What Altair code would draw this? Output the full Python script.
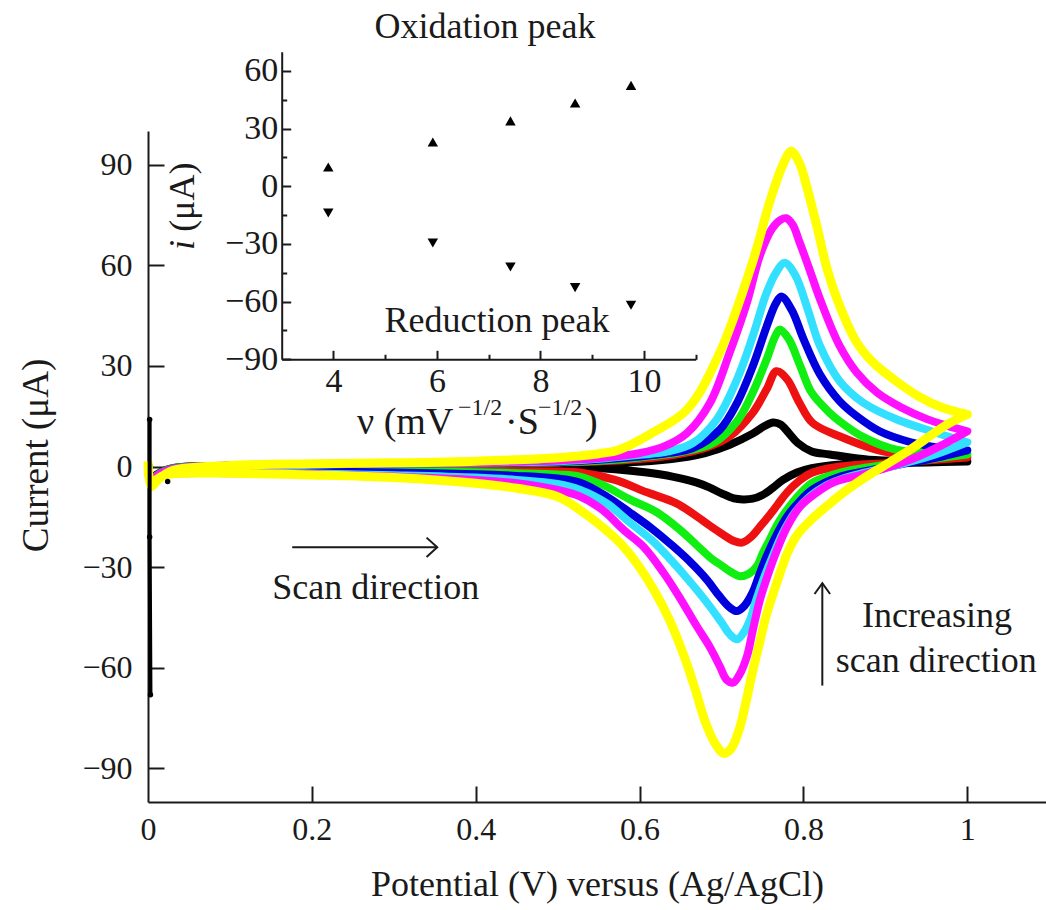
import altair as alt
import pandas as pd

# ---------------- main cyclic voltammograms: potential (V) / current (uA) ----------------
black_fwd_v = [0, 0.004, 0.01, 0.03, 0.1, 0.2, 0.3, 0.4, 0.5, 0.55, 0.6, 0.65, 0.68, 0.71, 0.738, 0.752, 0.763, 0.772, 0.782, 0.793, 0.81, 0.832, 0.88, 0.94, 1.0]
black_fwd_i = [1, -4, -2.5, -0.5, 0.2, 0.4, 0.5, 0.6, 0.8, 1.0, 1.4, 2.6, 4, 6.5, 9.8, 12, 13.1, 12.5, 10, 7, 4.5, 3.6, 2, 1.7, 1.5]
black_rev_v = [1.0, 0.95, 0.9, 0.845, 0.81, 0.792, 0.775, 0.762, 0.75, 0.738, 0.726, 0.715, 0.7, 0.685, 0.67, 0.64, 0.609, 0.57, 0.527, 0.45, 0.35, 0.2, 0.1, 0.04, 0.02, 0.01, 0.004, 0]
black_rev_i = [1.5, 1.2, 1, 0.6, -0.5, -1.8, -4, -6.5, -8.5, -9.6, -9.8, -9.5, -8, -6.2, -4.8, -3, -1.8, -0.8, -0.3, -0.5, -0.6, -0.7, -0.8, -0.9, -1.5, -2.5, -4, -1]

red_fwd_v = [0, 0.004, 0.01, 0.03, 0.1, 0.2, 0.3, 0.4, 0.5, 0.55, 0.6, 0.65, 0.68, 0.71, 0.738, 0.755, 0.767, 0.78, 0.795, 0.811, 0.844, 0.897, 0.95, 1.0]
red_fwd_i = [1, -4.5, -2.8, -0.6, 0.2, 0.5, 0.7, 0.9, 1.2, 1.5, 2.2, 3.8, 5.5, 9, 16, 23, 28.4, 26, 19, 13, 9, 4.5, 3.2, 2.7]
red_rev_v = [1.0, 0.95, 0.9, 0.845, 0.811, 0.795, 0.78, 0.768, 0.757, 0.747, 0.736, 0.725, 0.715, 0.7, 0.685, 0.67, 0.645, 0.609, 0.57, 0.527, 0.5, 0.45, 0.4, 0.3, 0.2, 0.1, 0.04, 0.02, 0.01, 0.004, 0]
red_rev_i = [2.7, 1.8, 1, 0, -1.8, -4.2, -7.7, -11.5, -15, -17.9, -21, -22.7, -22.2, -20, -17.5, -14.9, -11, -7.7, -4, -1.8, -1.5, -1.3, -1.2, -1.1, -1, -1, -1.1, -1.8, -3, -4.5, -1]

green_fwd_v = [0, 0.004, 0.01, 0.03, 0.1, 0.2, 0.3, 0.4, 0.5, 0.55, 0.6, 0.65, 0.69, 0.719, 0.738, 0.755, 0.765, 0.771, 0.782, 0.796, 0.81, 0.832, 0.844, 0.872, 0.913, 0.96, 1.0]
green_fwd_i = [1, -4.5, -2.8, -0.6, 0.2, 0.5, 0.8, 1.0, 1.3, 1.7, 2.7, 4.3, 7, 13.5, 22, 31.9, 38.5, 40.8, 38, 30, 22, 16, 13.5, 8.9, 5, 4, 3.6]
green_rev_v = [1.0, 0.95, 0.9, 0.845, 0.811, 0.797, 0.783, 0.77, 0.759, 0.75, 0.743, 0.733, 0.722, 0.712, 0.7, 0.689, 0.67, 0.649, 0.62, 0.588, 0.555, 0.527, 0.5, 0.45, 0.4, 0.3, 0.2, 0.1, 0.04, 0.02, 0.01, 0.004, 0]
green_rev_i = [3.6, 2, 0.5, -1.8, -4.8, -7.8, -11.9, -16.5, -21.7, -26, -29.8, -32, -32.7, -31.5, -29.5, -27.7, -23.5, -18.8, -13.5, -9.8, -5.5, -3, -2.4, -2, -1.7, -1.4, -1.2, -1.1, -1.2, -2, -3, -4.5, -1]

blue_fwd_v = [0, 0.004, 0.01, 0.03, 0.1, 0.2, 0.3, 0.4, 0.5, 0.55, 0.6, 0.635, 0.665, 0.698, 0.719, 0.738, 0.755, 0.766, 0.773, 0.786, 0.8, 0.82, 0.844, 0.865, 0.893, 0.93, 0.965, 1.0]
blue_fwd_i = [1, -5, -3, -0.7, 0.2, 0.5, 0.8, 1.1, 1.4, 2, 3, 4, 5.5, 11, 19, 29.8, 41.7, 48.5, 50.7, 46.5, 38, 27.5, 19.5, 15, 10.5, 7.3, 5.6, 4.8]
blue_rev_v = [1.0, 0.96, 0.92, 0.88, 0.845, 0.811, 0.795, 0.78, 0.767, 0.755, 0.745, 0.738, 0.728, 0.719, 0.71, 0.697, 0.682, 0.662, 0.641, 0.615, 0.588, 0.56, 0.527, 0.5, 0.45, 0.4, 0.3, 0.2, 0.1, 0.04, 0.02, 0.01, 0.004, 0]
blue_rev_i = [4.8, 2.5, 0.7, -1.2, -3, -6.9, -10.5, -14.9, -20.5, -26.8, -33, -37.5, -41.5, -43.1, -42, -38.5, -33.7, -28.5, -23.8, -18.5, -13.7, -9, -4.8, -3.6, -2.8, -2.3, -1.8, -1.5, -1.3, -1.4, -2, -3, -4.5, -1]

cyan_fwd_v = [0, 0.004, 0.01, 0.03, 0.1, 0.2, 0.3, 0.4, 0.5, 0.55, 0.6, 0.635, 0.665, 0.694, 0.719, 0.738, 0.755, 0.767, 0.777, 0.79, 0.805, 0.82, 0.844, 0.873, 0.914, 0.963, 1.0]
cyan_fwd_i = [1, -5, -3, -0.8, 0.2, 0.6, 0.9, 1.2, 1.6, 2.3, 3.5, 4.5, 7, 14, 26, 38.7, 51.8, 58, 60.7, 57, 47, 36, 25.5, 19, 14, 10, 7.2]
cyan_rev_v = [1.0, 0.96, 0.92, 0.88, 0.845, 0.825, 0.808, 0.79, 0.775, 0.762, 0.751, 0.742, 0.735, 0.727, 0.719, 0.71, 0.7, 0.682, 0.662, 0.641, 0.615, 0.588, 0.56, 0.527, 0.5, 0.45, 0.4, 0.3, 0.2, 0.1, 0.04, 0.02, 0.01, 0.004, 0]
cyan_rev_i = [7.2, 3.5, 0.8, -1.5, -3.9, -6, -8.9, -13.5, -19.7, -27, -33.7, -40, -45.6, -49.5, -51.5, -50, -46.5, -40.5, -34.5, -28.6, -22, -16.7, -11, -6.9, -5.2, -4, -3.3, -2.6, -2.1, -1.8, -1.8, -2.3, -3.3, -5, -1]

magenta_fwd_v = [0, 0.004, 0.01, 0.03, 0.1, 0.2, 0.3, 0.4, 0.5, 0.55, 0.6, 0.63, 0.658, 0.686, 0.71, 0.731, 0.747, 0.762, 0.772, 0.779, 0.787, 0.795, 0.807, 0.82, 0.844, 0.865, 0.89, 0.92, 0.95, 0.975, 1.0]
magenta_fwd_i = [1, -5, -3, -0.8, 0.3, 0.7, 1.0, 1.3, 1.8, 2.5, 4, 6, 10, 19, 34, 48.9, 63, 71, 73.5, 74, 72, 67, 59, 50, 36, 28, 22, 17.5, 14.2, 12.2, 10.5]
magenta_rev_v = [1.0, 0.97, 0.94, 0.9, 0.87, 0.836, 0.815, 0.796, 0.78, 0.768, 0.757, 0.747, 0.738, 0.731, 0.722, 0.714, 0.706, 0.698, 0.685, 0.67, 0.65, 0.629, 0.605, 0.58, 0.555, 0.527, 0.5, 0.45, 0.4, 0.3, 0.2, 0.1, 0.04, 0.02, 0.01, 0.004, 0]
magenta_rev_i = [10.5, 6.5, 3, -0.5, -2.5, -4.8, -8, -11.9, -18, -24.7, -32, -39.6, -49, -56.6, -62, -64.4, -63.5, -59.6, -53.5, -47.7, -39.5, -31.6, -24, -18.8, -13, -8.9, -7, -5, -4, -3, -2.3, -2, -2, -2.5, -3.5, -5, -1]

yellow_fwd_v = [0, 0.004, 0.012, 0.03, 0.1, 0.2, 0.3, 0.4, 0.5, 0.55, 0.576, 0.616, 0.658, 0.698, 0.738, 0.759, 0.775, 0.785, 0.795, 0.804, 0.817, 0.829, 0.844, 0.865, 0.885, 0.91, 0.94, 0.97, 1.0]
yellow_fwd_i = [1.5, -6, -4, -1.2, 0.3, 0.8, 1.1, 1.6, 2.6, 3.8, 5.1, 10.1, 17, 34, 61, 79, 90, 94, 90.5, 83.4, 71, 58.7, 48, 37, 31, 26, 21, 17.5, 15.5]
yellow_rev_v = [1.0, 0.975, 0.954, 0.93, 0.905, 0.88, 0.853, 0.83, 0.811, 0.792, 0.78, 0.767, 0.755, 0.746, 0.738, 0.73, 0.722, 0.712, 0.703, 0.692, 0.68, 0.668, 0.655, 0.637, 0.618, 0.597, 0.577, 0.557, 0.537, 0.5, 0.45, 0.4, 0.3, 0.2, 0.1, 0.04, 0.02, 0.01, 0.004, 0.0]
yellow_rev_i = [15.5, 12.5, 9, 5, 1.2, -2.5, -7, -11.5, -15.5, -20.5, -26, -35, -44, -53, -61, -70, -78, -84, -85.5, -82.5, -76, -66.5, -57, -46, -37, -29, -23, -18.5, -14.7, -9, -6.5, -5, -3.3, -2.5, -2, -2, -2.5, -4, -5.5, -1]

# initial transient spike of the first scan at 0 V
spike_v = [0.002, 0.002, 0.003]
spike_i = [14, -21, -68]
dot_v = [0.002, 0.002, 0.003, 0.024]
dot_i = [14, -21, -68, -4.5]

# ---------------- inset: peak current vs sqrt(scan rate) ----------------
ox_x = [3.9, 5.92, 7.42, 8.67, 9.75]
ox_y = [10.0, 23.0, 34.0, 43.3, 52.5]
red_x = [3.9, 5.92, 7.42, 8.67, 9.75]
red_y = [-13.9, -29.5, -42.0, -52.7, -61.9]

x_tick_vals = [0, 0.2, 0.4, 0.6, 0.8, 1]
y_tick_vals = [90, 60, 30, 0, -30, -60, -90]
ix_tick_vals = [4, 6, 8, 10]
ix_minor_vals = [5, 7, 9, 11]
iy_tick_vals = [60, 30, 0, -30, -60, -90]
iy_minor_vals = [45, 15, -15, -45, -75]

FONT = "Liberation Serif"
INK = "#1a1a1a"
W, H = 898, 671

XS = alt.Scale(domain=[0, 1.096], nice=False, zero=False)
YS = alt.Scale(domain=[-100, 100], nice=False, zero=False)
IXS = alt.Scale(domain=[3, 11], range=[133.7, 547.7], nice=False, zero=False)
IYS = alt.Scale(domain=[-90, 70], range=[228.3, -79.3], nice=False, zero=False)

series = [
    ("black", "#000000", 8, black_fwd_v, black_fwd_i, black_rev_v, black_rev_i),
    ("red", "#ee1111", 8, red_fwd_v, red_fwd_i, red_rev_v, red_rev_i),
    ("green", "#11ee11", 8, green_fwd_v, green_fwd_i, green_rev_v, green_rev_i),
    ("blue", "#0000dd", 8, blue_fwd_v, blue_fwd_i, blue_rev_v, blue_rev_i),
    ("cyan", "#33e0ff", 8, cyan_fwd_v, cyan_fwd_i, cyan_rev_v, cyan_rev_i),
    ("magenta", "#ff11ff", 8, magenta_fwd_v, magenta_fwd_i, magenta_rev_v, magenta_rev_i),
    ("yellow", "#ffff00", 9, yellow_fwd_v, yellow_fwd_i, yellow_rev_v, yellow_rev_i),
]

# ---- axes ----
x_lbl_axis = alt.Axis(orient="bottom", values=x_tick_vals, format="~g", ticks=False, tickSize=0,
                      domain=True, domainColor=INK, domainWidth=2, grid=False,
                      labelFont=FONT, labelFontSize=32, labelColor=INK, labelPadding=12,
                      labelFlush=False, labelOverlap=False,
                      title="Potential (V) versus (Ag/AgCl)", titleFont=FONT, titleFontSize=36,
                      titleFontWeight="normal", titleColor=INK, titleX=W / 2, titleY=93,
                      titleAlign="center", titleBaseline="alphabetic")
y_lbl_axis = alt.Axis(orient="left", values=y_tick_vals, ticks=False, tickSize=0,
                      domain=True, domainColor=INK, domainWidth=2, grid=False,
                      labelFont=FONT, labelFontSize=32, labelColor=INK, labelPadding=16,
                      labelFlush=False, labelOverlap=False,
                      title="Current (μA)", titleFont=FONT, titleFontSize=37,
                      titleFontWeight="normal", titleColor=INK, titleX=-112, titleY=324,
                      titleAngle=270, titleAlign="center", titleBaseline="middle")
x_tick_axis = alt.Axis(orient="bottom", offset=-16, values=x_tick_vals[1:], ticks=True, tickSize=16,
                       tickWidth=2, tickColor=INK, domain=False, labels=False, grid=False, title=None)
y_tick_axis = alt.Axis(orient="left", offset=-16, values=y_tick_vals, ticks=True, tickSize=16,
                       tickWidth=2, tickColor=INK, domain=False, labels=False, grid=False, title=None)

main_layers = []
for k, (name, color, sw, fv, fi, rv, ri) in enumerate(series):
    rows = []
    for j, (v, c) in enumerate(zip(fv + rv, fi + ri)):
        rows.append({"V": v, "I": c, "idx": j})
    df = pd.DataFrame(rows)
    if k == 0:
        xa, ya = x_lbl_axis, y_lbl_axis
    elif k == 1:
        xa, ya = x_tick_axis, y_tick_axis
    else:
        xa, ya = None, None
    layer = alt.Chart(df).mark_line(color=color, strokeWidth=sw, interpolate="catmull-rom",
                                    strokeJoin="round", strokeCap="butt").encode(
        x=alt.X("V:Q", scale=XS, axis=xa),
        y=alt.Y("I:Q", scale=YS, axis=ya),
        order="idx:Q",
    )
    main_layers.append(layer)

spike = alt.Chart(pd.DataFrame({"V": spike_v, "I": spike_i, "o": [0, 1, 2]})).mark_line(
    color="#000000", strokeWidth=4).encode(
    x=alt.X("V:Q", scale=XS, axis=None), y=alt.Y("I:Q", scale=YS, axis=None), order="o:Q")
dots = alt.Chart(pd.DataFrame({"V": dot_v, "I": dot_i})).mark_circle(color="#000000", size=30, opacity=1).encode(
    x=alt.X("V:Q", scale=XS, axis=None), y=alt.Y("I:Q", scale=YS, axis=None))

# annotation arrows (in data units)
arrow_df = pd.DataFrame({
    "seg": ["a", "a", "b", "b", "b", "c", "c", "d", "d", "d"],
    "o": [0, 1, 0, 1, 2, 0, 1, 0, 1, 2],
    "V": [0.176, 0.353, 0.340, 0.353, 0.340, 0.823, 0.823, 0.8135, 0.823, 0.8325],
    "I": [-24.1, -24.1, -21.2, -24.1, -27.0, -65.3, -34.8, -38.0, -34.8, -38.0],
})
arrows = alt.Chart(arrow_df).mark_line(color=INK, strokeWidth=2).encode(
    x=alt.X("V:Q", scale=XS, axis=None), y=alt.Y("I:Q", scale=YS, axis=None),
    detail="seg:N", order="o:Q")

ann_df = pd.DataFrame({
    "V": [0.278, 0.963, 0.962],
    "I": [-39.6, -47.7, -61.4],
    "t": ["Scan direction", "Increasing", "scan direction"],
})
ann = alt.Chart(ann_df).mark_text(font=FONT, fontSize=36, color=INK, align="center",
                                  baseline="alphabetic").encode(
    x=alt.X("V:Q", scale=XS, axis=None), y=alt.Y("I:Q", scale=YS, axis=None), text="t:N")

main = alt.layer(*main_layers, spike, dots, arrows, ann).resolve_axis(x="independent", y="independent")

# ---------------- inset ----------------
ix_lbl_axis = alt.Axis(orient="bottom", offset=-442.7, values=ix_tick_vals, format="d", ticks=False, tickSize=0,
                       domain=True, domainColor=INK, domainWidth=2, grid=False,
                       labelFont=FONT, labelFontSize=34, labelColor=INK, labelPadding=5,
                       labelFlush=False, labelOverlap=False, title=None)
iy_lbl_axis = alt.Axis(orient="left", offset=-133.7, values=iy_tick_vals, ticks=False, tickSize=0,
                       domain=True, domainColor=INK, domainWidth=2, grid=False,
                       labelFont=FONT, labelFontSize=34, labelColor=INK, labelPadding=4,
                       labelFlush=False, labelOverlap=False, title=None)
ix_tick_axis = alt.Axis(orient="bottom", offset=-451.7, values=ix_tick_vals, ticks=True, tickSize=9,
                        tickWidth=2, tickColor=INK, domain=False, labels=False, grid=False, title=None)
iy_tick_axis = alt.Axis(orient="left", offset=-142.7, values=iy_tick_vals, ticks=True, tickSize=9,
                        tickWidth=2, tickColor=INK, domain=False, labels=False, grid=False, title=None)
ix_minor_axis = alt.Axis(orient="bottom", offset=-447.7, values=ix_minor_vals, ticks=True, tickSize=5,
                         tickWidth=2, tickColor=INK, domain=False, labels=False, grid=False, title=None)
iy_minor_axis = alt.Axis(orient="left", offset=-138.7, values=iy_minor_vals, ticks=True, tickSize=5,
                         tickWidth=2, tickColor=INK, domain=False, labels=False, grid=False, title=None)

ox_pts = alt.Chart(pd.DataFrame({"x": ox_x, "y": ox_y})).mark_point(
    shape="triangle-up", filled=True, color="#000000", size=110, opacity=1).encode(
    x=alt.X("x:Q", scale=IXS, axis=ix_lbl_axis), y=alt.Y("y:Q", scale=IYS, axis=iy_lbl_axis))
red_pts = alt.Chart(pd.DataFrame({"x": red_x, "y": red_y})).mark_point(
    shape="triangle-down", filled=True, color="#000000", size=110, opacity=1).encode(
    x=alt.X("x:Q", scale=IXS, axis=ix_tick_axis), y=alt.Y("y:Q", scale=IYS, axis=iy_tick_axis))

inset_text_df = pd.DataFrame({
    "x": [6.93, 7.16],
    "y": [76.9, -75.8],
    "t": ["Oxidation peak", "Reduction peak"],
})
inset_text = alt.Chart(inset_text_df).mark_text(font=FONT, fontSize=36, color=INK, align="center",
                                                baseline="alphabetic").encode(
    x=alt.X("x:Q", scale=IXS, axis=ix_minor_axis), y=alt.Y("y:Q", scale=IYS, axis=iy_minor_axis), text="t:N")

# inset x-axis title with superscripts, composed of pieces
title_pieces = ["ν (mV", "−1/2", "·S", "−1/2", ")"]
title_sizes = [38, 24, 38, 24, 38]
title_dx = [0, 101, 148, 181, 228]
title_y = [-129.0, -119.0, -129.0, -119.0, -129.0]
tp_df = pd.DataFrame({"x": [4.455] * 5, "y": title_y, "t": title_pieces})
tp_layers = []
for j in range(5):
    tp_layers.append(
        alt.Chart(tp_df.iloc[[j]]).mark_text(font=FONT, fontSize=title_sizes[j], color=INK, align="left",
                                             baseline="alphabetic", dx=title_dx[j]).encode(
            x=alt.X("x:Q", scale=IXS, axis=None), y=alt.Y("y:Q", scale=IYS, axis=None), text="t:N"))

iy_title_df = pd.DataFrame({"x": [1.1, 1.1], "y": [-30.5, -5.7], "t": ["i", "(μA)"]})
iy_t1 = alt.Chart(iy_title_df.iloc[[0]]).mark_text(font=FONT, fontSize=36, fontStyle="italic", color=INK,
                                                   angle=270, align="center", baseline="middle").encode(
    x=alt.X("x:Q", scale=IXS, axis=None), y=alt.Y("y:Q", scale=IYS, axis=None), text="t:N")
iy_t2 = alt.Chart(iy_title_df.iloc[[1]]).mark_text(font=FONT, fontSize=36, color=INK,
                                                   angle=270, align="center", baseline="middle").encode(
    x=alt.X("x:Q", scale=IXS, axis=None), y=alt.Y("y:Q", scale=IYS, axis=None), text="t:N")

inset = alt.layer(ox_pts, red_pts, inset_text, *tp_layers, iy_t1, iy_t2).resolve_axis(
    x="independent", y="independent")

chart = alt.layer(main, inset).resolve_scale(x="independent", y="independent").properties(
    width=W, height=H,
    padding={"left": 148, "top": 131, "right": 0, "bottom": 108},
    autosize=alt.AutoSizeParams(type="none"),
    background="#ffffff",
).configure_view(stroke=None)

chart.save("out.html", embed_options={"renderer": "svg", "actions": False})
